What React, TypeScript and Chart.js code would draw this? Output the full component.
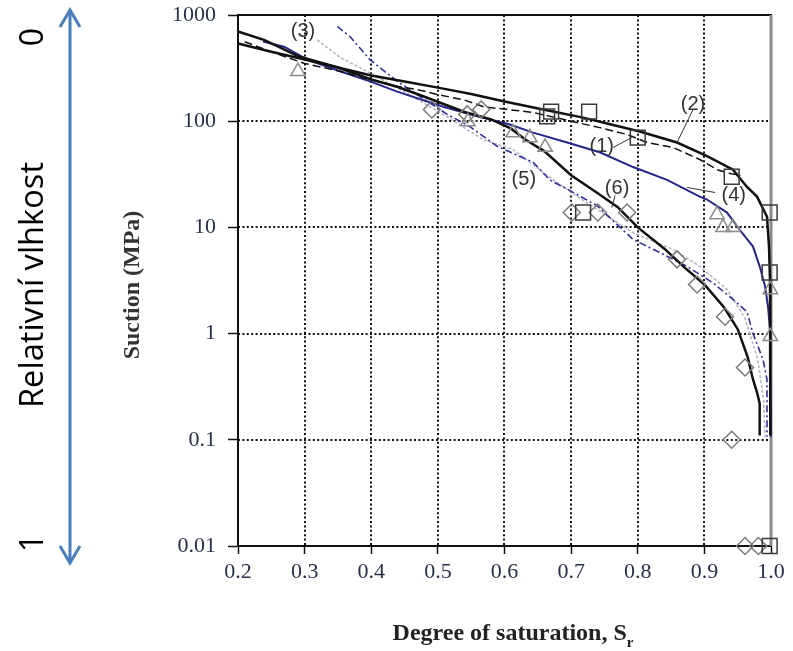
import React, { useEffect, useRef } from 'react';
import { Chart, registerables } from 'chart.js';

Chart.register(...registerables);

// ---- axes ----
const X_TICKS = [0.2, 0.3, 0.4, 0.5, 0.6, 0.7, 0.8, 0.9, 1.0];
const X_TICK_LABELS = ['0.2', '0.3', '0.4', '0.5', '0.6', '0.7', '0.8', '0.9', '1.0'];
const Y_TICKS = [0.01, 0.1, 1, 10, 100, 1000];
const Y_TICK_LABELS = ['0.01', '0.1', '1', '10', '100', '1000'];

// ---- curves (degree of saturation, suction MPa) ----
const C1_S = [0.21, 0.25, 0.3, 0.35, 0.4, 0.44, 0.47, 0.5, 0.54, 0.57, 0.6, 0.643, 0.703, 0.743, 0.784, 0.814, 0.853, 0.893, 0.919, 0.94, 0.955];
const C1_SUCTION = [560, 450, 350, 298, 245, 212, 198, 178, 158, 136, 130, 121, 99, 87, 75, 63, 56.5, 43.6, 35, 32, 31];

const C2_S = [0.2, 0.25, 0.3, 0.35, 0.4, 0.45, 0.5, 0.55, 0.6, 0.658, 0.718, 0.76, 0.803, 0.859, 0.904, 0.943, 0.964, 0.979, 0.994, 0.997, 0.9985, 0.999, 0.999];
const C2_SUCTION = [540, 450, 381, 320, 269, 237, 207, 180, 153, 129, 108, 93, 80, 63, 47, 35, 24, 19.5, 12.6, 6.6, 3.2, 1.0, 0.11];

const C3_S = [0.319, 0.353, 0.388, 0.443, 0.514, 0.568, 0.613, 0.673, 0.718, 0.793, 0.853, 0.893, 0.934, 0.961, 0.98, 0.989, 0.991];
const C3_SUCTION = [582, 400, 307, 200, 110, 67, 54, 28, 18, 8.9, 6.2, 4.3, 2.6, 1.4, 0.57, 0.24, 0.107];

const C4_S = [0.2375, 0.27, 0.304, 0.35, 0.398, 0.439, 0.508, 0.559, 0.608, 0.643, 0.694, 0.743, 0.793, 0.844, 0.893, 0.904, 0.934, 0.953, 0.973, 0.983, 0.991, 0.9955, 0.9985, 0.999, 1.0];
const C4_SUCTION = [562, 500, 381, 300, 237, 190, 137, 111, 93, 78, 63, 51, 37, 28, 19.5, 18.3, 13.8, 9.5, 6.6, 4.3, 2.8, 1.8, 1.1, 0.37, 0.107];

const C5_S = [0.349, 0.368, 0.398, 0.439, 0.514, 0.548, 0.589, 0.643, 0.668, 0.694, 0.739, 0.793, 0.833, 0.874, 0.913, 0.943, 0.964, 0.973, 0.988, 0.994, 0.994];
const C5_SUCTION = [780, 628, 380, 237, 116, 89, 58, 41, 28, 23, 16, 7.7, 5.8, 4.3, 3.0, 2.1, 1.6, 1.0, 0.57, 0.37, 0.107];

const C6_S = [0.2, 0.24, 0.29, 0.35, 0.4, 0.44, 0.48, 0.54, 0.58, 0.61, 0.63, 0.66, 0.7, 0.74, 0.77, 0.8, 0.84, 0.87, 0.9, 0.93, 0.95, 0.965, 0.973, 0.979, 0.983, 0.983];
const C6_SUCTION = [700, 580, 410, 320, 247, 210, 170, 122, 104, 85, 68, 52, 31, 21, 15.5, 10, 6.3, 4.2, 2.9, 1.75, 1.1, 0.6, 0.37, 0.28, 0.22, 0.11];

// ---- measured points ----
const SQUARE_S = [0.67, 0.664, 0.727, 0.8, 0.941, 0.718, 0.998, 0.998, 0.998];
const SQUARE_SUCTION = [123, 111, 123, 70, 30, 13.8, 13.8, 3.76, 0.01];

const TRIANGLE_S = [0.29, 0.545, 0.613, 0.638, 0.661, 0.919, 0.928, 0.943, 0.999, 0.999];
const TRIANGLE_SUCTION = [294, 99, 78, 70, 57, 13.2, 10, 10, 2.6, 0.94];

const DIAMOND_S = [0.491, 0.544, 0.565, 0.701, 0.74, 0.784, 0.859, 0.889, 0.931, 0.961, 0.941, 0.961, 0.981];
const DIAMOND_SUCTION = [129, 116, 129, 13.8, 13.8, 13.8, 5.0, 2.9, 1.44, 0.48, 0.1, 0.01, 0.01];

// ---- curve labels ----
const CURVE_LABELS = ['(1)', '(2)', '(3)', '(4)', '(5)', '(6)'];
const CURVE_LABEL_S = [0.746, 0.883, 0.2976, 0.944, 0.629, 0.769];
const CURVE_LABEL_SUCTION = [57.8, 143.6, 700, 20, 28.3, 23.2];

const LEADER_FROM_S = [0.763, 0.883, 0.916, 0.766];
const LEADER_FROM_SUCTION = [56.5, 129, 21.3, 20];
const LEADER_TO_S = [0.791, 0.859, 0.874, 0.761];
const LEADER_TO_SUCTION = [70.3, 63, 23.8, 15.4];

const pts = (xs: number[], ys: number[]) => xs.map((x, i) => ({ x, y: ys[i] }));

const SERIF = '"Liberation Serif", "Times New Roman", serif';
const SANS = '"Liberation Sans", Arial, sans-serif';

const decorPlugin = {
  id: 'decor',
  beforeDatasetsDraw(chart: any) {
    const { ctx, chartArea, scales } = chart;
    const { left, right, top, bottom } = chartArea;
    const x = scales.x;
    const y = scales.y;
    ctx.save();
    ctx.strokeStyle = '#111';
    ctx.lineWidth = 2;
    ctx.setLineDash([2, 2.4]);
    Y_TICKS.slice(1, -1).forEach((v) => {
      const py = Math.round(y.getPixelForValue(v));
      ctx.beginPath();
      ctx.moveTo(left, py);
      ctx.lineTo(right, py);
      ctx.stroke();
    });
    X_TICKS.slice(1, -1).forEach((v) => {
      const px = Math.round(x.getPixelForValue(v));
      ctx.beginPath();
      ctx.moveTo(px, top);
      ctx.lineTo(px, bottom);
      ctx.stroke();
    });
    ctx.setLineDash([]);
    // top solid line
    const pt = Math.round(y.getPixelForValue(Y_TICKS[Y_TICKS.length - 1]));
    ctx.beginPath();
    ctx.moveTo(left, pt);
    ctx.lineTo(right + 1, pt);
    ctx.stroke();
    // right gray line
    const pr = Math.round(x.getPixelForValue(X_TICKS[X_TICKS.length - 1]));
    ctx.strokeStyle = '#8a8a8a';
    ctx.lineWidth = 3;
    ctx.beginPath();
    ctx.moveTo(pr, top);
    ctx.lineTo(pr, bottom);
    ctx.stroke();
    ctx.restore();
  },
  afterDatasetsDraw(chart: any) {
    const { ctx, scales } = chart;
    const x = scales.x;
    const y = scales.y;
    ctx.save();
    ctx.fillStyle = '#333';
    ctx.font = `20px ${SANS}`;
    ctx.textAlign = 'center';
    ctx.textBaseline = 'middle';
    CURVE_LABELS.forEach((t, i) => {
      ctx.fillText(t, x.getPixelForValue(CURVE_LABEL_S[i]), y.getPixelForValue(CURVE_LABEL_SUCTION[i]));
    });
    ctx.strokeStyle = '#333';
    ctx.lineWidth = 1;
    LEADER_FROM_S.forEach((s, i) => {
      ctx.beginPath();
      ctx.moveTo(x.getPixelForValue(s), y.getPixelForValue(LEADER_FROM_SUCTION[i]));
      ctx.lineTo(x.getPixelForValue(LEADER_TO_S[i]), y.getPixelForValue(LEADER_TO_SUCTION[i]));
      ctx.stroke();
    });
    ctx.restore();
  },
  afterDraw(chart: any) {
    const { ctx } = chart;
    ctx.save();
    // y title
    ctx.fillStyle = '#333';
    ctx.font = `bold 24px ${SERIF}`;
    ctx.textAlign = 'center';
    ctx.textBaseline = 'alphabetic';
    ctx.save();
    ctx.translate(139, 285);
    ctx.rotate(-Math.PI / 2);
    ctx.fillText('Suction (MPa)', 0, 0);
    ctx.restore();

    // x title with subscript
    ctx.fillStyle = '#222';
    const main = 'Degree of saturation, S';
    ctx.font = `bold 24px ${SERIF}`;
    const w1 = ctx.measureText(main).width;
    ctx.font = `bold 15px ${SERIF}`;
    const w2 = ctx.measureText('r').width;
    const cx = 513;
    const sx = cx - (w1 + w2) / 2;
    ctx.textAlign = 'left';
    ctx.font = `bold 24px ${SERIF}`;
    ctx.fillText(main, sx, 640);
    ctx.font = `bold 15px ${SERIF}`;
    ctx.fillText('r', sx + w1, 647);

    // left double arrow
    ctx.strokeStyle = '#4a7ebb';
    ctx.lineWidth = 3;
    ctx.lineCap = 'butt';
    ctx.beginPath();
    ctx.moveTo(70, 10);
    ctx.lineTo(70, 563);
    ctx.stroke();
    ctx.beginPath();
    ctx.moveTo(60, 27);
    ctx.lineTo(70, 10);
    ctx.lineTo(80, 27);
    ctx.stroke();
    ctx.beginPath();
    ctx.moveTo(60, 546);
    ctx.lineTo(70, 563);
    ctx.lineTo(80, 546);
    ctx.stroke();

    // left rotated texts
    ctx.fillStyle = '#000';
    ctx.textAlign = 'center';
    ctx.font = `32px "Open Sans", "Noto Sans", sans-serif`;
    const drawRot = (t: string, cy: number, fitW?: number) => {
      ctx.save();
      ctx.translate(43, cy);
      ctx.rotate(-Math.PI / 2);
      if (fitW) {
        const w = ctx.measureText(t).width;
        ctx.scale(fitW / w, 1);
      }
      ctx.fillText(t, 0, 0);
      ctx.restore();
    };
    drawRot('Relativní vlhkost', 285, 246);
    drawRot('0', 37);
    drawRot('1', 543);
    ctx.restore();
  },
};

export default function App() {
  const ref = useRef<HTMLCanvasElement>(null);
  useEffect(() => {
    const canvas = ref.current;
    if (!canvas) return;
    const line = (xs: number[], ys: number[], color: string, width: number, dash: number[] = []) => ({
      type: 'scatter' as const,
      data: pts(xs, ys),
      showLine: true,
      borderColor: color,
      borderWidth: width,
      borderDash: dash,
      pointRadius: 0,
      tension: 0,
      fill: false,
      clip: false as any,
    });
    const marks = (xs: number[], ys: number[], style: string, color: string, r: number) => ({
      type: 'scatter' as const,
      data: pts(xs, ys),
      showLine: false,
      pointStyle: style,
      pointRadius: r,
      pointBorderColor: color,
      pointBackgroundColor: 'rgba(255,255,255,0)',
      pointBorderWidth: 1.5,
      clip: false as any,
    });
    const chart = new Chart(canvas, {
      type: 'scatter',
      data: {
        datasets: [
          marks(SQUARE_S, SQUARE_SUCTION, 'rect', '#3a3a3a', 10.5),
          marks(TRIANGLE_S, TRIANGLE_SUCTION, 'triangle', '#8c8c8c', 8.3),
          marks(DIAMOND_S, DIAMOND_SUCTION, 'rectRot', '#7a7a7a', 8.5),
          line(C2_S, C2_SUCTION, '#111', 2.5),
          line(C6_S, C6_SUCTION, '#111', 2.5),
          line(C1_S, C1_SUCTION, '#111', 1.5, [8, 4]),
          line(C4_S, C4_SUCTION, '#25258c', 2),
          line(C5_S, C5_SUCTION, '#30309e', 1.6, [7, 3, 2, 3]),
          line(C3_S, C3_SUCTION, '#b4b4c4', 1.6, [3, 2]),
        ] as any,
      },
      options: {
        responsive: false,
        devicePixelRatio: 1,
        animation: false,
        events: [],
        layout: { padding: { top: 15, right: 22, left: 0, bottom: 0 } },
        plugins: { legend: { display: false }, tooltip: { enabled: false }, title: { display: false } },
        scales: {
          x: {
            type: 'linear',
            min: 0.2,
            max: 1.0,
            afterBuildTicks: (axis: any) => {
              axis.ticks = X_TICKS.map((v) => ({ value: v }));
            },
            afterFit: (axis: any) => {
              axis.height = 105;
              axis.paddingLeft = 0;
              axis.paddingRight = 0;
            },
            ticks: {
              autoSkip: false,
              maxRotation: 0,
              padding: 5,
              color: '#28304a',
              font: { family: SERIF, size: 22 },
              callback: (_v: any, i: number) => X_TICK_LABELS[i],
            },
            grid: { display: true, drawOnChartArea: false, drawTicks: true, tickLength: 8, tickColor: '#111', tickWidth: 1.5, color: '#111' },
            border: { display: true, color: '#111', width: 2 },
          },
          y: {
            type: 'logarithmic',
            min: 0.01,
            max: 1000,
            afterBuildTicks: (axis: any) => {
              axis.ticks = Y_TICKS.map((v) => ({ value: v }));
            },
            afterFit: (axis: any) => {
              axis.width = 238;
              axis.paddingTop = 0;
              axis.paddingBottom = 0;
            },
            ticks: {
              autoSkip: false,
              padding: 12,
              color: '#28304a',
              font: { family: SERIF, size: 22 },
              callback: (_v: any, i: number) => Y_TICK_LABELS[i],
            },
            grid: { display: true, drawOnChartArea: false, drawTicks: true, tickLength: 10, tickColor: '#111', tickWidth: 1.5, color: '#111' },
            border: { display: true, color: '#111', width: 2 },
          },
        },
      } as any,
      plugins: [decorPlugin],
    });
    return () => chart.destroy();
  }, []);
  return (
    <div style={{ position: 'fixed', left: 0, top: 0, width: 793, height: 651, background: '#fff' }}>
      <canvas ref={ref} width={793} height={651} style={{ display: 'block', width: 793, height: 651 }} />
    </div>
  );
}
